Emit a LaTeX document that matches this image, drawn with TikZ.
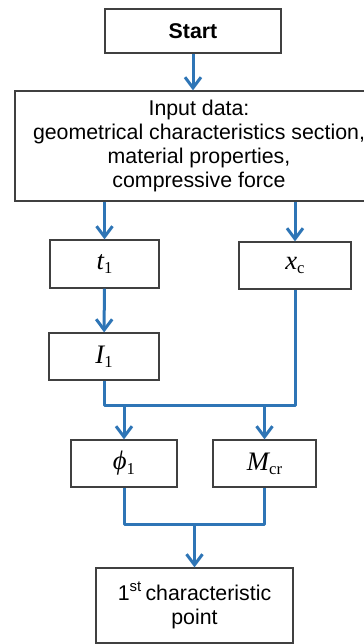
\documentclass[tikz,border=0pt]{standalone}
\usepackage{fontspec}
\setmainfont{Liberation Sans}
\newfontfamily\tnr{Liberation Serif}
\usetikzlibrary{arrows.meta}
\definecolor{flowblue}{RGB}{46,117,182}
\newcommand{\symb}[2]{{\tnr\fontsize{20}{22}\selectfont\itshape #1\raisebox{-0.35ex}{\upshape\fontsize{12.5}{14}\selectfont #2}}}
\tikzset{
  box/.style={draw=black!75, line width=0.9pt, inner sep=0pt, align=center,
    font=\fontsize{16}{18}\selectfont},
  flow/.style={draw=flowblue, line width=2.25pt},
  arr/.style={flow, -{Straight Barb[length=8pt,width=12pt]}}
}
\begin{document}
\begin{tikzpicture}[x=0.75pt,y=-0.75pt]
  \useasboundingbox (0,0) rectangle (364,644);
  \node[box, minimum width=132pt, minimum height=33pt] (start) at (193,31) {\bfseries Start};
  \node[box, minimum width=276pt, minimum height=82.5pt] (input) at (199,146)
    {Input data:\\geometrical characteristics section,\\material properties,\\compressive force};
  \node[box, minimum width=81.75pt, minimum height=36pt] (t1) at (104.5,264) {\symb{t}{1}};
  \node[box, minimum width=84pt, minimum height=35.25pt] (xc) at (295,265.5) {\symb{x}{c}};
  \node[box, minimum width=82.5pt, minimum height=35.25pt] (I1) at (104,356.5) {\symb{I}{1}};
  \node[box, minimum width=79.5pt, minimum height=35.25pt] (phi) at (124,463.5) {\symb{ϕ}{1}};
  \node[box, minimum width=77.25pt, minimum height=35.25pt] (Mcr) at (264.5,463.5) {\symb{M}{cr}};
  \node[box, minimum width=147.75pt, minimum height=56.25pt] (point) at (194.5,605.5)
    {1\textsuperscript{st}\,characteristic\\point};
  \coordinate (bus1) at (0,405);
  \coordinate (bus2) at (0,524);
  % arrows
  \draw[arr] (start) -- (start |- input.north);
  \draw[arr] (input.south -| t1) -- (t1);
  \draw[arr] (input.south -| xc) -- (xc);
  \draw[arr] (t1) -- (I1);
  \draw[flow, line join=round] (I1) -- (I1 |- bus1) -- (xc |- bus1) -- (xc);
  \draw[arr] (phi |- bus1) -- (phi);
  \draw[arr] (Mcr |- bus1) -- (Mcr);
  \draw[flow, line join=round] (phi) -- (phi |- bus2) -- (Mcr |- bus2) -- (Mcr);
  \draw[arr] (point |- bus2) -- (point);
\end{tikzpicture}
\end{document}
